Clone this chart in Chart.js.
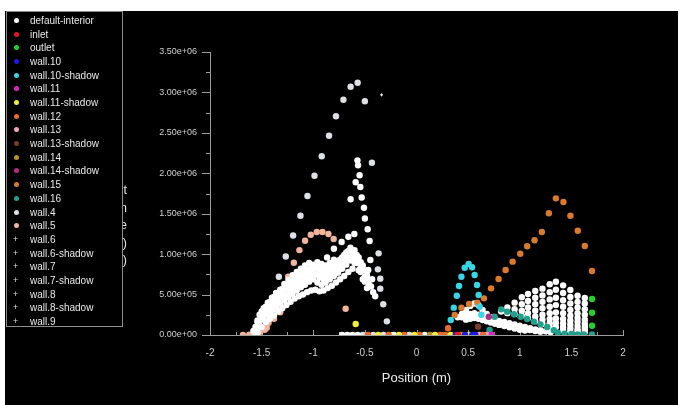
<!DOCTYPE html>
<html lang="en">
<head>
<meta charset="utf-8">
<title>Position plot</title>
<script src="https://cdn.jsdelivr.net/npm/chart.js@4"></script>
<style>
  html, body { margin: 0; padding: 0; background: #fff; }
  body { width: 684px; height: 405px; position: relative; overflow: hidden; font-family: "Liberation Sans", Arial, sans-serif; }
  #plot { position: absolute; left: 5px; top: 11px; width: 673px; height: 394px; background: #000; }
  #ytitle { position: absolute; left: 60px; top: 182px; width: 67px; text-align: right; color: #e4e4e4;
            font-size: 12.5px; line-height: 17.5px; white-space: pre; }
  #legend { position: absolute; left: 6px; top: 11px; width: 115px; height: 314px; border: 1px solid #8c8c8c; background: #000; }
  .item { position: absolute; left: 0; width: 115px; height: 13px; line-height: 13px; font-size: 10px; color: #e8e8e8; white-space: nowrap; }
  .dot { position: absolute; left: 7px; top: 4px; width: 5px; height: 5px; border-radius: 50%; }
  .plus { position: absolute; left: 6px; top: 0; font-size: 9px; color: #dcdcdc; }
  .name { position: absolute; left: 23px; top: 0; }
</style>
</head>
<body>
<div id="plot"><canvas id="chart"></canvas></div>
<div id="ytitle"></div>
<div id="legend"></div>
<script>
// axis settings
const xMin = -2, xMax = 2, xStep = 0.5;
const yMin = 0, yMax = 3.5e6, yStep = 5e5;
const xTitle = 'Position (m)';
// tails of the y-axis caption that peek out from behind the legend box
const yTitleTails = ['t', 'n', 'e', ')', ')'];

// legend entries
const seriesNames = ['default-interior', 'inlet', 'outlet', 'wall.10', 'wall.10-shadow', 'wall.11', 'wall.11-shadow',
  'wall.12', 'wall.13', 'wall.13-shadow', 'wall.14', 'wall.14-shadow', 'wall.15', 'wall.16', 'wall.4', 'wall.5',
  'wall.6', 'wall.6-shadow', 'wall.7', 'wall.7-shadow', 'wall.8', 'wall.8-shadow', 'wall.9'];
const seriesColors = ['#ffffff', '#e8141c', '#22d22a', '#1a1ae6', '#36d6e6', '#e024c4', '#f2f034',
  '#ea6a2c', '#f0a6b6', '#7c3c2a', '#b8902c', '#b02a86', '#dc7a2c', '#22a08e', '#dde1e6', '#f2b49c',
  '#ffffff', '#ffffff', '#ffffff', '#ffffff', '#ffffff', '#ffffff', '#ffffff'];
const crossSeries = ['wall.6', 'wall.6-shadow', 'wall.7', 'wall.7-shadow', 'wall.8', 'wall.8-shadow', 'wall.9'];

// default-interior: left cloud rows
const interiorRowA = [[-1.56,1.0e5],[-1.52,2.5e5],[-1.48,3.3e5],[-1.44,4.0e5],[-1.40,4.6e5],[-1.36,5.2e5],[-1.32,5.6e5],
  [-1.28,6.3e5],[-1.24,6.8e5],[-1.20,7.4e5],[-1.16,7.8e5],[-1.12,8.2e5],[-1.08,8.6e5],[-1.04,8.9e5],[-1.00,8.7e5],
  [-0.96,9.0e5],[-0.92,8.8e5],[-0.88,8.6e5],[-0.84,8.9e5],[-0.80,9.3e5],[-0.76,9.0e5],[-0.72,9.6e5],[-0.68,1.02e6],
  [-0.64,1.08e6],[-0.60,1.05e6],[-0.56,9.6e5],[-0.52,8.6e5],[-0.48,7.4e5],[-0.44,6.0e5],[-0.40,4.8e5]];
const interiorRowAB = [[-1.54,1.6e5],[-1.50,2.9e5],[-1.46,3.5e5],[-1.42,4.1e5],[-1.38,4.7e5],[-1.34,5.1e5],[-1.30,5.7e5],
  [-1.26,6.1e5],[-1.22,6.6e5],[-1.18,7.0e5],[-1.14,7.5e5],[-1.10,7.9e5],[-1.06,8.1e5],[-1.02,8.3e5],[-0.98,8.6e5],
  [-0.94,8.3e5],[-0.90,8.1e5],[-0.86,8.3e5],[-0.82,8.6e5],[-0.78,8.8e5],[-0.74,9.3e5],[-0.70,9.9e5],[-0.66,1.04e6],
  [-0.62,1.02e6],[-0.58,9.9e5],[-0.54,9.0e5],[-0.50,8.0e5],[-0.46,6.8e5]];
const interiorRowB = [[-1.58,5.0e4],[-1.54,1.8e5],[-1.50,2.6e5],[-1.46,3.0e5],[-1.42,3.6e5],[-1.38,4.2e5],[-1.34,4.6e5],
  [-1.30,5.1e5],[-1.26,5.6e5],[-1.22,6.0e5],[-1.18,6.4e5],[-1.14,6.9e5],[-1.10,7.2e5],[-1.06,7.6e5],[-1.02,7.9e5],
  [-0.98,8.2e5],[-0.94,7.8e5],[-0.90,7.5e5],[-0.86,7.7e5],[-0.82,8.0e5],[-0.78,8.3e5],[-0.74,8.7e5],[-0.70,9.2e5],
  [-0.66,9.6e5],[-0.62,9.9e5],[-0.58,9.4e5],[-0.54,8.4e5],[-0.50,7.2e5],[-0.46,6.2e5],[-0.42,5.3e5]];
const interiorRowBC = [[-1.54,8.0e4],[-1.50,1.9e5],[-1.46,2.6e5],[-1.42,3.1e5],[-1.38,3.6e5],[-1.34,4.1e5],[-1.30,4.5e5],
  [-1.26,4.9e5],[-1.22,5.4e5],[-1.18,5.8e5],[-1.14,6.2e5],[-1.10,6.6e5],[-1.06,6.9e5],[-1.02,7.3e5],[-0.98,7.5e5],
  [-0.94,7.1e5],[-0.90,6.9e5],[-0.86,7.1e5],[-0.82,7.5e5],[-0.78,7.9e5],[-0.74,8.3e5],[-0.70,8.8e5],[-0.66,9.3e5],
  [-0.62,9.5e5],[-0.58,8.9e5],[-0.54,7.8e5],[-0.50,6.6e5]];
const interiorRowC = [[-1.56,0],[-1.52,1.2e5],[-1.48,2.0e5],[-1.44,2.5e5],[-1.40,3.0e5],[-1.36,3.5e5],[-1.32,3.9e5],
  [-1.28,4.3e5],[-1.24,4.7e5],[-1.20,5.1e5],[-1.16,5.5e5],[-1.12,5.9e5],[-1.08,6.2e5],[-1.04,6.6e5],[-1.00,6.9e5],
  [-0.96,6.5e5],[-0.92,6.2e5],[-0.88,6.5e5],[-0.84,6.9e5],[-0.80,7.3e5],[-0.76,7.7e5],[-0.72,8.2e5],[-0.68,8.7e5],
  [-0.64,9.2e5],[-0.60,8.9e5],[-0.56,8.0e5],[-0.52,6.9e5],[-0.48,5.8e5]];
const interiorRowD = [[-1.54,3.0e4],[-1.50,1.0e5],[-1.46,1.6e5],[-1.42,2.0e5],[-1.38,2.4e5],[-1.34,2.9e5],[-1.30,3.3e5],
  [-1.26,3.7e5],[-1.22,4.1e5],[-1.18,4.5e5],[-1.14,4.8e5],[-1.10,5.0e5],[-1.06,5.3e5],[-1.02,5.5e5],[-0.98,5.6e5],
  [-0.94,5.4e5],[-0.90,5.5e5],[-0.86,5.8e5],[-0.82,6.1e5],[-0.78,6.5e5],[-0.74,6.9e5],[-0.70,7.3e5],[-0.66,7.8e5],
  [-0.62,8.2e5]];
// default-interior: inner arch near x = -0.57
const interiorArch = [[-0.866,9.6e5],[-0.80,1.067e6],[-0.725,1.15e6],[-0.66,1.216e6],[-0.602,1.25e6],[-0.638,1.678e6],
  [-0.589,1.89e6],[-0.572,2.16e6],[-0.566,2.10e6],[-0.551,1.975e6],[-0.544,1.83e6],[-0.531,1.70e6],[-0.509,1.574e6],
  [-0.500,1.44e6],[-0.473,1.307e6],[-0.454,1.163e6],[-0.447,9.27e5],[-0.467,8.04e5],[-0.43,6.9e5]];
// default-interior: right cloud rows
const interiorRightRows = [
  [[0.82,2.9e5],[0.88,3.4e5],[0.95,4.0e5],[1.02,4.66e5],[1.08,5.07e5],[1.15,5.44e5],[1.22,5.73e5],[1.29,6.27e5],[1.35,6.59e5],[1.42,6.14e5],[1.49,5.56e5],[1.56,4.86e5],[1.63,4.58e5]],
  [[0.88,2.7e5],[0.95,3.2e5],[1.02,3.8e5],[1.08,4.2e5],[1.15,4.6e5],[1.22,4.9e5],[1.29,5.3e5],[1.35,5.6e5],[1.42,5.2e5],[1.49,4.7e5],[1.56,4.1e5],[1.63,3.9e5]],
  [[0.95,2.6e5],[1.02,3.0e5],[1.08,3.4e5],[1.15,3.8e5],[1.22,4.1e5],[1.29,4.4e5],[1.35,4.6e5],[1.42,4.3e5],[1.49,3.9e5],[1.56,3.4e5],[1.63,3.2e5]],
  [[1.02,2.4e5],[1.08,2.7e5],[1.15,3.0e5],[1.22,3.3e5],[1.29,3.5e5],[1.35,3.7e5],[1.42,3.5e5],[1.49,3.1e5],[1.56,2.7e5],[1.63,2.5e5]],
  [[1.08,2.1e5],[1.15,2.3e5],[1.22,2.5e5],[1.29,2.7e5],[1.35,2.8e5],[1.42,2.7e5],[1.49,2.4e5],[1.56,2.1e5],[1.63,1.9e5]],
  [[1.15,1.7e5],[1.22,1.9e5],[1.29,2.0e5],[1.35,2.05e5],[1.42,2.0e5],[1.49,1.8e5],[1.56,1.6e5],[1.63,1.4e5]],
  [[1.22,1.35e5],[1.29,1.45e5],[1.35,1.5e5],[1.42,1.45e5],[1.49,1.3e5],[1.56,1.1e5],[1.63,1.0e5]],
  [[1.29,9.5e4],[1.35,1.0e5],[1.42,9.5e4],[1.49,8.5e4],[1.56,7.0e4],[1.63,6.5e4]],
  [[1.42,5.5e4],[1.49,4.5e4],[1.56,4.0e4],[1.63,3.5e4]]
];
// default-interior: lower band right of zero
const interiorBandRows = [
  [[0.40,2.2e5],[0.44,2.6e5],[0.48,3.1e5],[0.52,3.6e5],[0.56,3.9e5],[0.60,3.7e5],[0.64,3.1e5],[0.68,2.6e5],[0.72,2.2e5],[0.76,1.95e5],[0.80,1.75e5],[0.85,1.6e5],[0.90,1.45e5],[0.95,1.3e5],[1.00,1.15e5],[1.05,1.0e5],[1.10,8.5e4],[1.15,7.0e4],[1.20,5.8e4],[1.25,4.6e4],[1.30,3.5e4]],
  [[0.44,2.2e5],[0.48,2.4e5],[0.52,2.6e5],[0.56,2.7e5],[0.60,2.5e5],[0.64,2.3e5],[0.68,2.05e5],[0.72,1.85e5],[0.76,1.65e5],[0.80,1.5e5],[0.85,1.35e5],[0.90,1.2e5],[0.95,1.05e5],[1.00,9.0e4],[1.05,7.5e4],[1.10,6.2e4],[1.15,5.0e4],[1.20,4.0e4]],
  [[0.48,1.9e5],[0.52,2.0e5],[0.56,2.1e5],[0.60,2.0e5],[0.64,1.85e5],[0.68,1.7e5],[0.72,1.55e5],[0.76,1.4e5],[0.80,1.25e5],[0.85,1.1e5],[0.90,9.5e4],[0.95,8.0e4],[1.00,6.5e4],[1.05,5.5e4]]
];
const interiorZero = [[-0.72,0],[-0.67,0],[-0.62,0],[-0.57,0],[-0.22,0],[0.08,0]];

// other zones
const inletPts = [[0.40,0]];
const outletPts = [[1.70,4.45e5],[1.70,2.76e5],[1.70,1.15e5]];
const wall10Pts = [[0.38,0],[0.47,0],[0.54,0],[0.57,0]];
const wall10ShadowPts = [[0.332,1.85e5],[0.361,3.38e5],[0.39,4.86e5],[0.412,6.06e5],[0.435,7.21e5],[0.467,8.32e5],
  [0.505,8.78e5],[0.538,8.37e5],[0.563,7.42e5],[0.586,6.18e5],[0.602,4.95e5],[0.612,3.5e5],[0.628,2.5e5]];
const wall11Pts = [[0.73,0]];
const wall11ShadowPts = [[-0.37,0],[-0.17,0],[-0.02,0],[0.18,0],[0.33,0],[0.51,0],[-0.589,1.36e5]];
const wall12Pts = [[-0.47,0],[-0.27,0],[-0.12,0],[0.03,0],[0.23,0],[0.28,0],[0.645,0],[0.306,8.3e4]];
const wall13Pts = [[0.61,0],[0.68,0]];
const wall13ShadowPts = [[0.596,1.03e5]];
const wall14Pts = [[0.13,0],[0.43,0]];
const wall14ShadowPts = [[0.70,2.26e5],[0.71,0]];
const wall15Pts = [[0.37,2.47e5],[0.435,3.38e5],[0.509,3.83e5],[0.589,4.0e5],[0.654,4.53e5],[0.722,5.77e5],[0.795,6.92e5],
  [0.863,8.04e5],[0.931,9.07e5],[1.005,1.005e6],[1.072,1.097e6],[1.143,1.171e6],[1.214,1.274e6],[1.282,1.505e6],
  [1.35,1.69e6],[1.423,1.645e6],[1.491,1.475e6],[1.562,1.29e6],[1.630,1.10e6],[1.700,7.91e5]];
const wall16Pts = [[0.708,6.2e4],[0.757,2.26e5],[0.821,3.17e5],[0.879,2.88e5],[0.944,2.56e5],[1.008,2.26e5],[1.072,1.98e5],
  [1.137,1.65e5],[1.201,1.32e5],[1.266,9.9e4],[1.33,5.8e4],[1.369,2.9e4],[1.433,1.6e4],[1.50,1.2e4],[1.56,8.0e3],
  [1.62,8.0e3],[1.70,8.0e3]];
const wall4Pts = [[-1.333,7.2e5],[-1.266,9.7e5],[-1.195,1.23e6],[-1.124,1.475e6],[-1.056,1.72e6],[-0.988,1.97e6],
  [-0.918,2.21e6],[-0.847,2.465e6],[-0.780,2.705e6],[-0.708,2.91e6],[-0.638,3.07e6],[-0.570,3.12e6],[-0.500,2.89e6],
  [-0.432,2.13e6],[-0.367,1.01e6],[-0.374,8.12e5],[-0.351,6.97e5],[-0.351,5.73e5],[-0.322,3.80e5],[-0.287,1.69e5],
  [-0.52,0],[-0.42,0],[-0.32,0],[-0.07,0]];
const wall5Pts = [[-1.681,0],[-1.62,5.0e3],[-1.575,1.0e4],[-1.514,4.1e4],[-1.47,6.5e4],[-1.45,9.0e4],[-1.433,1.52e5],
  [-1.40,2.4e5],[-1.38,2.0e5],[-1.356,3.38e5],[-1.32,2.8e5],[-1.298,5.19e5],[-1.243,7.21e5],[-1.188,8.94e5],
  [-1.134,1.05e6],[-1.079,1.166e6],[-1.024,1.24e6],[-0.966,1.274e6],[-0.911,1.274e6],[-0.853,1.25e6],[-0.802,1.187e6],
  [-0.744,9.27e5],[-0.686,3.25e5]];
const wall6Pts = [[-0.338,2.97e6]];

const interiorPts = [].concat(interiorRowA, interiorRowAB, interiorRowB, interiorRowBC, interiorRowC, interiorRowD,
  interiorArch, ...interiorRightRows, ...interiorBandRows, interiorZero);

const seriesPoints = {
  'default-interior': interiorPts, 'inlet': inletPts, 'outlet': outletPts, 'wall.10': wall10Pts,
  'wall.10-shadow': wall10ShadowPts, 'wall.11': wall11Pts, 'wall.11-shadow': wall11ShadowPts, 'wall.12': wall12Pts,
  'wall.13': wall13Pts, 'wall.13-shadow': wall13ShadowPts, 'wall.14': wall14Pts, 'wall.14-shadow': wall14ShadowPts,
  'wall.15': wall15Pts, 'wall.16': wall16Pts, 'wall.4': wall4Pts, 'wall.5': wall5Pts, 'wall.6': wall6Pts
};
// white zones sit under the coloured ones, wall.5 underneath everything
const drawOrder = { 'default-interior': 5, 'wall.4': 5, 'wall.5': 6 };

const fontFamily = '"Liberation Sans", Arial, sans-serif';

function sciLabel(v) {
  return Number(v).toExponential(2).replace(/e([+-])(\d)$/, 'e$10$2');
}

// major and minor tick marks (y outward, x inward)
const axisTicks = {
  id: 'axisTicks',
  beforeDatasetsDraw(chart) {
    const { ctx, chartArea, scales: { x, y } } = chart;
    ctx.save();
    ctx.strokeStyle = '#9c9c9c';
    ctx.lineWidth = 1;
    ctx.beginPath();
    y.ticks.forEach((t, i) => {
      const py = Math.round(y.getPixelForValue(t.value)) + 0.5;
      ctx.moveTo(chartArea.left - 8, py);
      ctx.lineTo(chartArea.left, py);
      if (i < y.ticks.length - 1) {
        const pm = Math.round(y.getPixelForValue((t.value + y.ticks[i + 1].value) / 2)) + 0.5;
        ctx.moveTo(chartArea.left - 4, pm);
        ctx.lineTo(chartArea.left, pm);
      }
    });
    x.ticks.forEach((t, i) => {
      const px = Math.round(x.getPixelForValue(t.value)) + 0.5;
      ctx.moveTo(px, chartArea.bottom);
      ctx.lineTo(px, chartArea.bottom - 5);
      if (i < x.ticks.length - 1) {
        const pm = Math.round(x.getPixelForValue((t.value + x.ticks[i + 1].value) / 2)) + 0.5;
        ctx.moveTo(pm, chartArea.bottom);
        ctx.lineTo(pm, chartArea.bottom - 3);
      }
    });
    ctx.stroke();
    ctx.restore();
  }
};

const datasets = seriesNames.map((name, i) => {
  const isCross = crossSeries.includes(name);
  return {
    label: name,
    data: (seriesPoints[name] || []).map(p => ({ x: p[0], y: p[1] })),
    order: drawOrder[name] || 0,
    showLine: false,
    pointStyle: isCross ? 'cross' : 'circle',
    pointRadius: isCross ? 1.5 : 3.2,
    pointHoverRadius: isCross ? 1.5 : 3.2,
    pointBackgroundColor: seriesColors[i],
    pointBorderColor: seriesColors[i],
    pointBorderWidth: isCross ? 1 : 0
  };
});

new Chart(document.getElementById('chart').getContext('2d'), {
  type: 'scatter',
  data: { datasets },
  options: {
    responsive: true,
    maintainAspectRatio: false,
    animation: false,
    events: [],
    layout: { padding: { left: 0, right: 55, top: 41, bottom: 0 } },
    plugins: { legend: { display: false }, tooltip: { enabled: false } },
    scales: {
      x: {
        type: 'linear', min: xMin, max: xMax,
        ticks: { stepSize: xStep, autoSkip: false, maxRotation: 0, padding: 12, color: '#cfcfcf',
                 font: { family: fontFamily, size: 10 }, callback: v => String(v) },
        grid: { display: false, drawTicks: false },
        border: { display: true, color: '#9c9c9c', width: 1 },
        title: { display: true, text: xTitle, color: '#ececec', font: { family: fontFamily, size: 13 },
                 padding: { top: 0, bottom: 19 } },
        afterFit: s => { s.height = 70; }
      },
      y: {
        type: 'linear', min: yMin, max: yMax,
        ticks: { stepSize: yStep, autoSkip: false, padding: 13, color: '#cfcfcf',
                 font: { family: fontFamily, size: 9 }, callback: v => sciLabel(v) },
        grid: { display: false, drawTicks: false },
        border: { display: true, color: '#9c9c9c', width: 1 },
        afterFit: s => { s.width = 205; }
      }
    }
  },
  plugins: [axisTicks]
});

// y caption tails
document.getElementById('ytitle').textContent = yTitleTails.join('\n');

// legend box
const legend = document.getElementById('legend');
seriesNames.forEach((name, i) => {
  const row = document.createElement('div');
  row.className = 'item';
  row.style.top = (2 + i * 13.68) + 'px';
  const mark = document.createElement('span');
  if (crossSeries.includes(name)) {
    mark.className = 'plus';
    mark.textContent = '+';
  } else {
    mark.className = 'dot';
    mark.style.background = seriesColors[i];
  }
  const label = document.createElement('span');
  label.className = 'name';
  label.textContent = name;
  row.appendChild(mark);
  row.appendChild(label);
  legend.appendChild(row);
});
</script>
</body>
</html>
